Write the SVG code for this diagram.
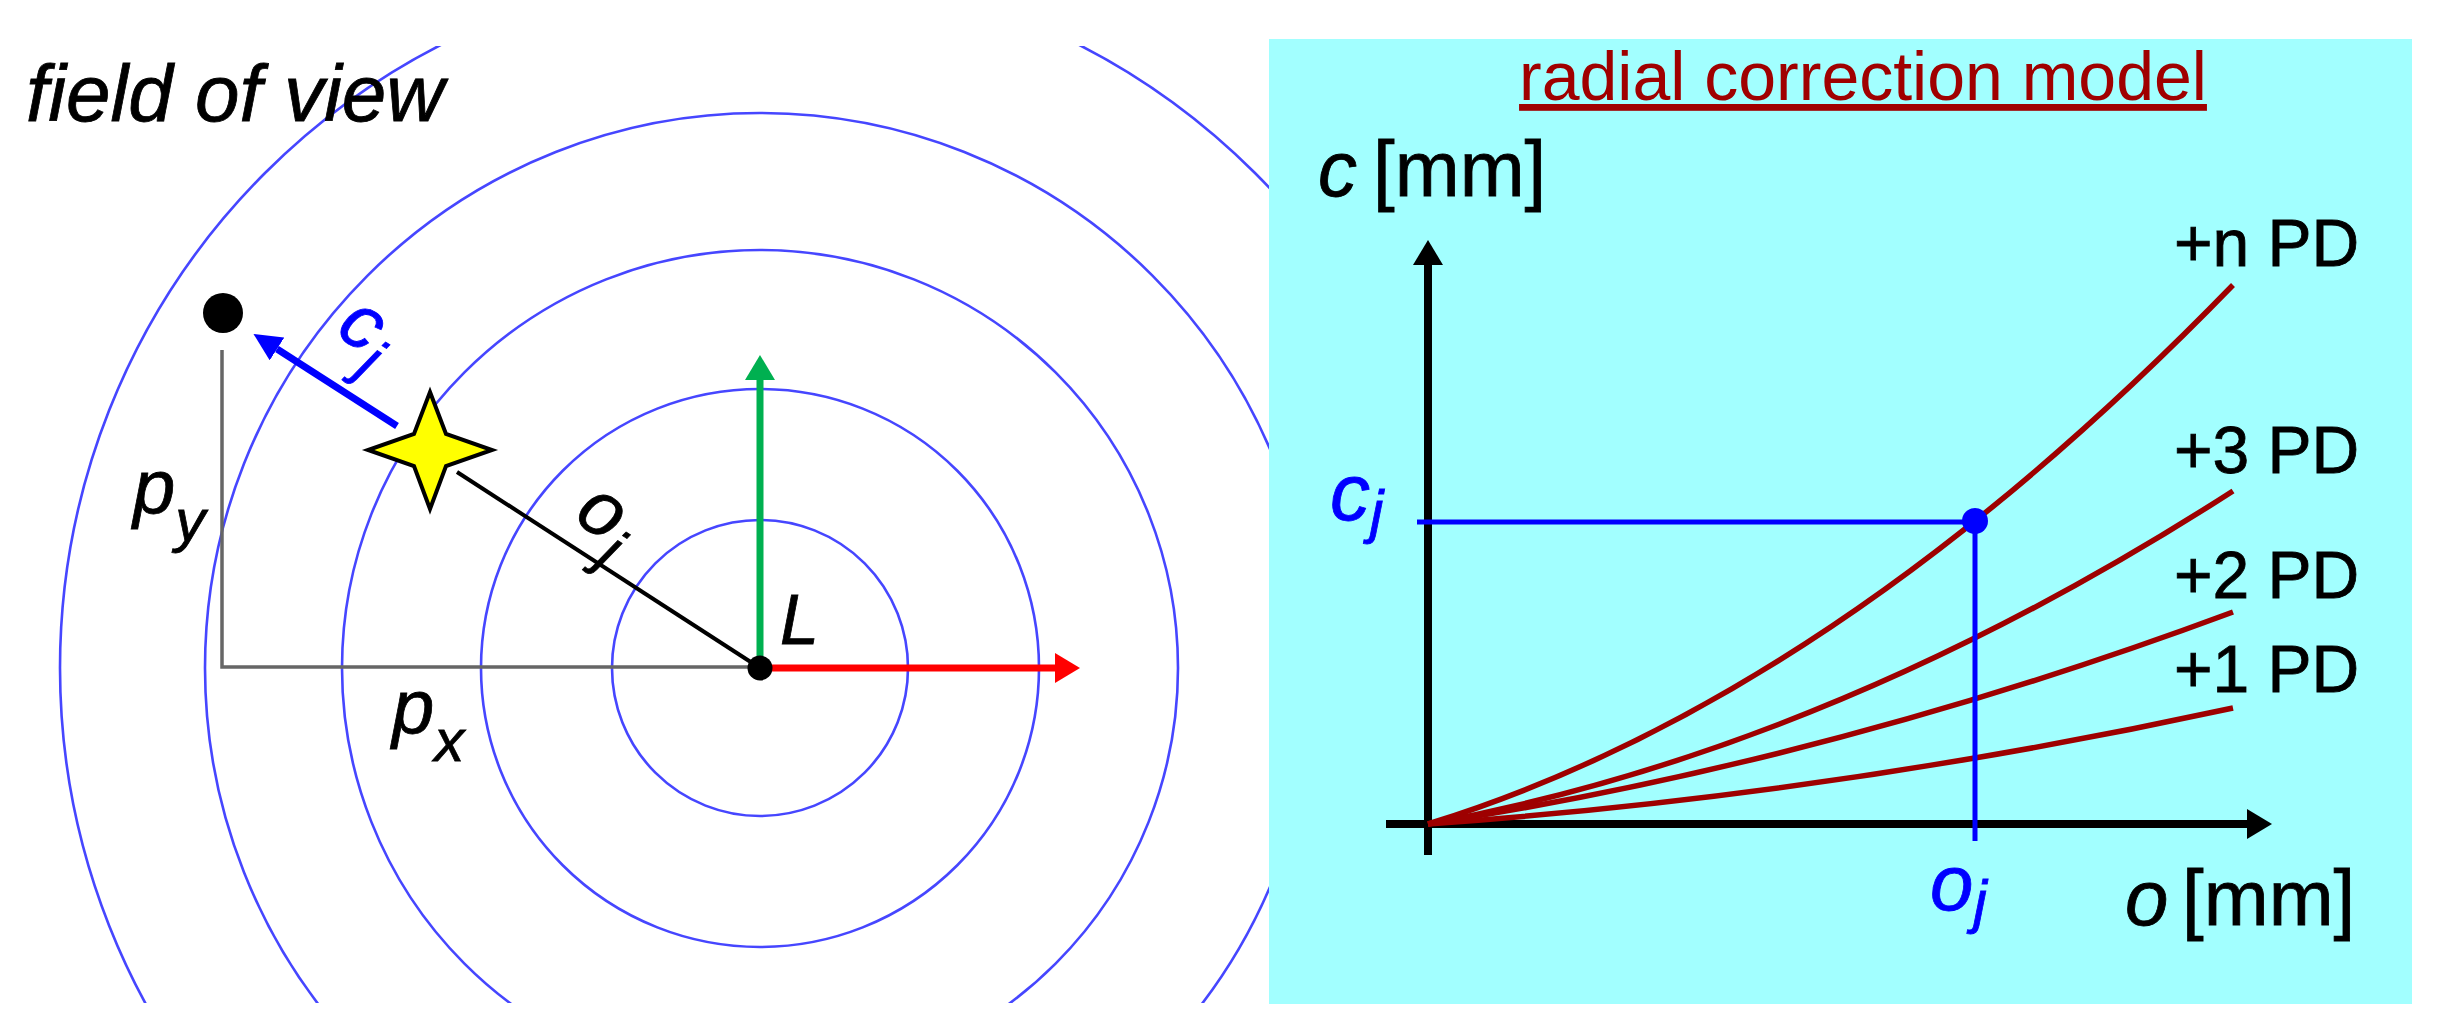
<svg xmlns="http://www.w3.org/2000/svg" width="2452" height="1034" viewBox="0 0 2452 1034">
<style>
  .ring{fill:none;stroke:#4646FF;stroke-width:2.6}
  .lbl{font-family:"Liberation Sans",Arial,sans-serif;font-size:76px;font-style:italic;fill:#000;stroke:#000;stroke-width:0.8}
  .up{font-style:normal}
  .sub{font-size:60px}
  .blue{fill:#0000FF;stroke:#0000FF}
  .pd{font-family:"Liberation Sans",Arial,sans-serif;font-size:66px;fill:#000;stroke:#000;stroke-width:0.8}
  .title{font-family:"Liberation Sans",Arial,sans-serif;font-size:68px;fill:#A00000;text-decoration:underline}
  .curve{fill:none;stroke:#9E0000;stroke-width:5.5}
  .gray{stroke:#666;stroke-width:3.5;fill:none}
</style>
<defs>
  <clipPath id="fovclip"><rect x="0" y="46" width="1269" height="957"/></clipPath>
  <marker id="hGreen" viewBox="0 0 10 10" refX="0" refY="5" markerUnits="userSpaceOnUse" markerWidth="25" markerHeight="30" orient="auto" preserveAspectRatio="none"><path d="M0,0 L10,5 L0,10 Z" fill="#00B050"/></marker>
  <marker id="hRed" viewBox="0 0 10 10" refX="0" refY="5" markerUnits="userSpaceOnUse" markerWidth="25" markerHeight="30" orient="auto" preserveAspectRatio="none"><path d="M0,0 L10,5 L0,10 Z" fill="#FF0000"/></marker>
  <marker id="hBlue" viewBox="0 0 10 10" refX="0" refY="5" markerUnits="userSpaceOnUse" markerWidth="28" markerHeight="27" orient="auto" preserveAspectRatio="none"><path d="M0,0 L10,5 L0,10 Z" fill="#0000FF"/></marker>
  <marker id="hBlack" viewBox="0 0 10 10" refX="0" refY="5" markerUnits="userSpaceOnUse" markerWidth="25" markerHeight="30" orient="auto" preserveAspectRatio="none"><path d="M0,0 L10,5 L0,10 Z" fill="#000"/></marker>
</defs>
<rect x="0" y="0" width="2452" height="1034" fill="#fff"/>

<g id="rings" clip-path="url(#fovclip)">
  <circle class="ring" cx="760" cy="668" r="148"/>
  <circle class="ring" cx="760" cy="668" r="279"/>
  <circle class="ring" cx="760" cy="668" r="418"/>
  <circle class="ring" cx="760" cy="668" r="555"/>
  <circle class="ring" cx="760" cy="668" r="700"/>
</g>

<g id="fov-label"><text class="lbl" x="26" y="121" style="font-size:80px">field of view</text></g>

<g id="connectors">
  <polyline class="gray" points="222,350 222,667 760,667"/>
  <line x1="457" y1="472" x2="760" y2="668" stroke="#000" stroke-width="4"/>
  <line x1="760" y1="668" x2="760" y2="380" stroke="#00B050" stroke-width="7" marker-end="url(#hGreen)"/>
  <line x1="760" y1="668" x2="1055" y2="668" stroke="#FF0000" stroke-width="7" marker-end="url(#hRed)"/>
  <line x1="397" y1="426" x2="277" y2="349" stroke="#0000FF" stroke-width="7" marker-end="url(#hBlue)"/>
</g>

<g id="point-p"><circle cx="223" cy="313" r="20" fill="#000"/></g>
<g id="star"><path d="M430,392 L446,434 L492,450 L446,466 L430,509 L414,466 L368,450 L414,434 Z" fill="#FFFF00" stroke="#000" stroke-width="4" stroke-linejoin="miter"/></g>
<g id="point-L"><circle cx="760" cy="668" r="12.5" fill="#000"/><text class="lbl" x="780" y="644" style="font-size:70px">L</text></g>

<g id="labels-left">
  <text class="lbl" x="133" y="513">p<tspan class="sub" dy="28">y</tspan></text>
  <text class="lbl" x="392" y="733">p<tspan class="sub" dy="28">x</tspan></text>
  <text class="lbl" transform="translate(572,520) rotate(33)">o<tspan class="sub" dy="24">j</tspan></text>
  <text class="lbl blue" transform="translate(334,334) rotate(33)">c<tspan class="sub" dy="22">j</tspan></text>
</g>

<g id="panel">
  <rect x="1269" y="39" width="1143" height="965" fill="#A2FFFF"/>
  <text class="title" x="1863" y="100" text-anchor="middle">radial correction model</text>
</g>

<g id="axes">
  <line x1="1428" y1="855" x2="1428" y2="265" stroke="#000" stroke-width="8" marker-end="url(#hBlack)"/>
  <line x1="1386" y1="824" x2="2247" y2="824" stroke="#000" stroke-width="8" marker-end="url(#hBlack)"/>
  <text class="lbl" x="1318" y="196" style="font-size:78px">c<tspan class="up" x="1373">[mm]</tspan></text>
  <text class="lbl" x="2125" y="925" style="font-size:78px">o<tspan class="up" x="2182">[mm]</tspan></text>
</g>

<g id="curves">
  <path class="curve" d="M1428,824 Q1830.5,699.7 2233,285"/>
  <path class="curve" d="M1428,824 Q1830.5,749.9 2233,491"/>
  <path class="curve" d="M1428,824 Q1830.5,761.7 2233,612"/>
  <path class="curve" d="M1428,824 Q1830.5,795.4 2233,708"/>
  <text class="pd" x="2174" y="266">+n PD</text>
  <text class="pd" x="2174" y="473">+3 PD</text>
  <text class="pd" x="2174" y="598">+2 PD</text>
  <text class="pd" x="2174" y="692">+1 PD</text>
</g>

<g id="reading">
  <polyline points="1417,522 1975,522 1975,841" fill="none" stroke="#0000FF" stroke-width="5"/>
  <circle cx="1975" cy="521" r="13" fill="#0000FF"/>
  <text class="lbl blue" x="1330" y="520" style="font-size:80px">c<tspan class="sub" dy="12">j</tspan></text>
  <text class="lbl blue" x="1930" y="910" style="font-size:78px">o<tspan class="sub" dy="12">j</tspan></text>
</g>
</svg>
